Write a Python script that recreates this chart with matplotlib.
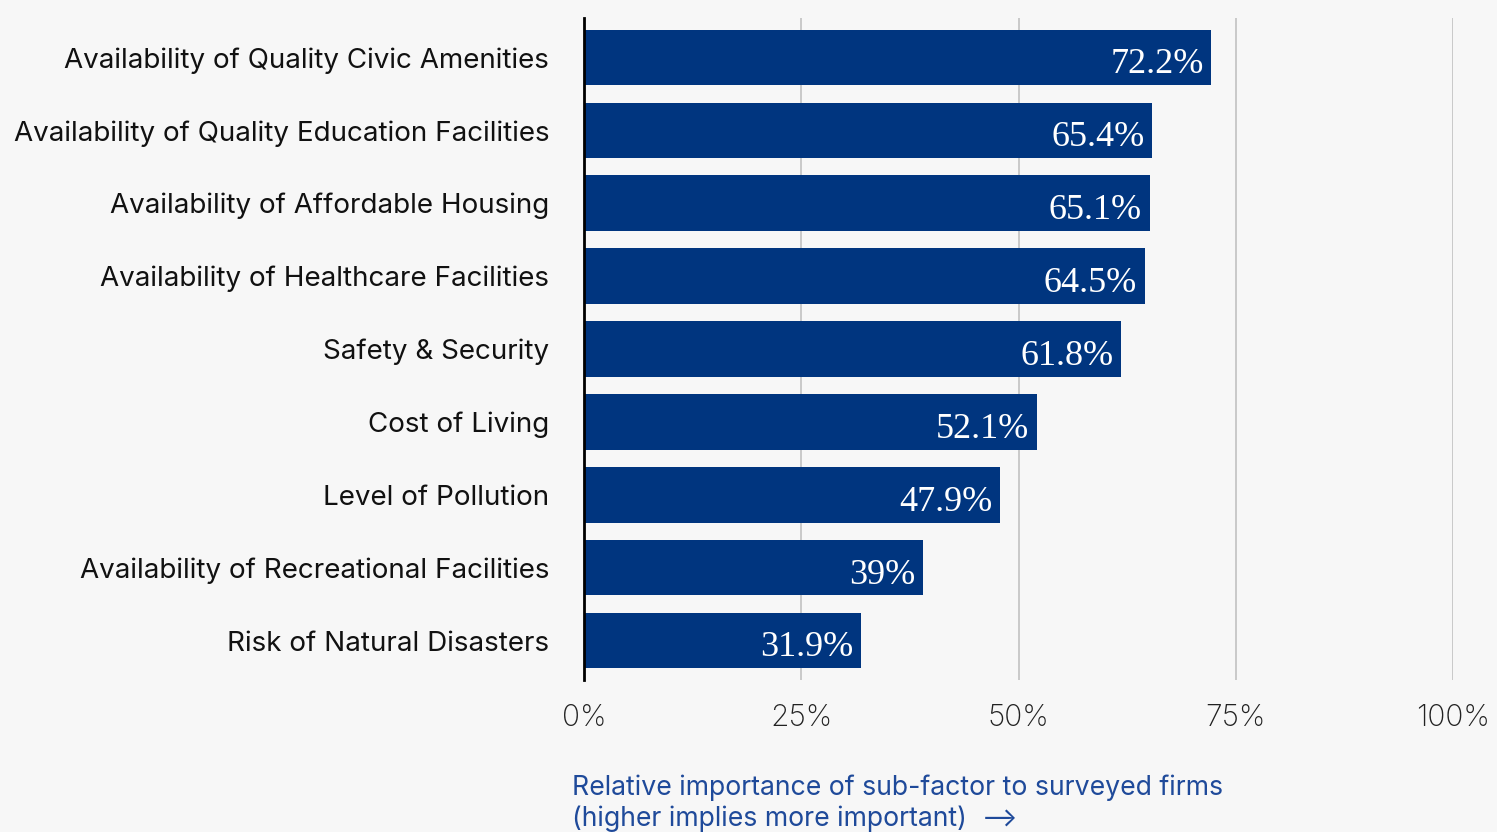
import matplotlib
matplotlib.use("Agg")
import matplotlib.pyplot as plt

categories = [
    "Availability of Quality Civic Amenities",
    "Availability of Quality Education Facilities",
    "Availability of Affordable Housing",
    "Availability of Healthcare Facilities",
    "Safety & Security",
    "Cost of Living",
    "Level of Pollution",
    "Availability of Recreational Facilities",
    "Risk of Natural Disasters",
]
values = [72.2, 65.4, 65.1, 64.5, 61.8, 52.1, 47.9, 39.0, 31.9]
value_labels = ["72.2%", "65.4%", "65.1%", "64.5%", "61.8%", "52.1%", "47.9%", "39%", "31.9%"]
xticks = [0, 25, 50, 75, 100]
xtick_labels = ["0%", "25%", "50%", "75%", "100%"]

BG = "#f7f7f7"
BAR = "#00357f"
BLUE_TEXT = "#1f4a9a"

fig = plt.figure(figsize=(14.97, 8.32), dpi=100, facecolor=BG)
ax = fig.add_axes([584 / 1497, 152 / 832, 869 / 1497, 662 / 832], facecolor=BG)

y = list(range(len(categories)))
ax.barh(y, values, height=0.76, color=BAR, zorder=2)

for yi, v, lab in zip(y, values, value_labels):
    ax.text(v - 0.9, yi + 0.1, lab, ha="right", va="center", color="white",
            fontsize=26, family="Liberation Serif", zorder=3)

ax.set_ylim(len(categories) - 0.46, -0.54)
ax.set_xlim(0, 100)
ax.set_yticks(y)
ax.set_yticklabels(categories, fontsize=20, family="Inter", color="#111111")
ax.set_xticks(xticks)
ax.set_xticklabels(xtick_labels, fontsize=21.5, family="Inter", fontweight="light",
                   color="#222222")
ax.tick_params(axis="y", length=0, pad=25)
ax.tick_params(axis="x", length=0, pad=17)

ax.grid(axis="x", color="#c9c9c9", linewidth=1.4, zorder=0)
for s in ["top", "right", "bottom"]:
    ax.spines[s].set_visible(False)
ax.spines["left"].set_color("black")
ax.spines["left"].set_linewidth(2)
ax.spines["left"].set_zorder(4)

fig.text(572 / 1497, 1 - 803 / 832,
         "Relative importance of sub-factor to surveyed firms\n(higher implies more important)  \u27f6",
         ha="left", va="center", fontsize=19.2, color=BLUE_TEXT,
         family=["Inter", "DejaVu Sans"], linespacing=1.22)

fig.savefig("out.png", dpi=100, facecolor=BG)
